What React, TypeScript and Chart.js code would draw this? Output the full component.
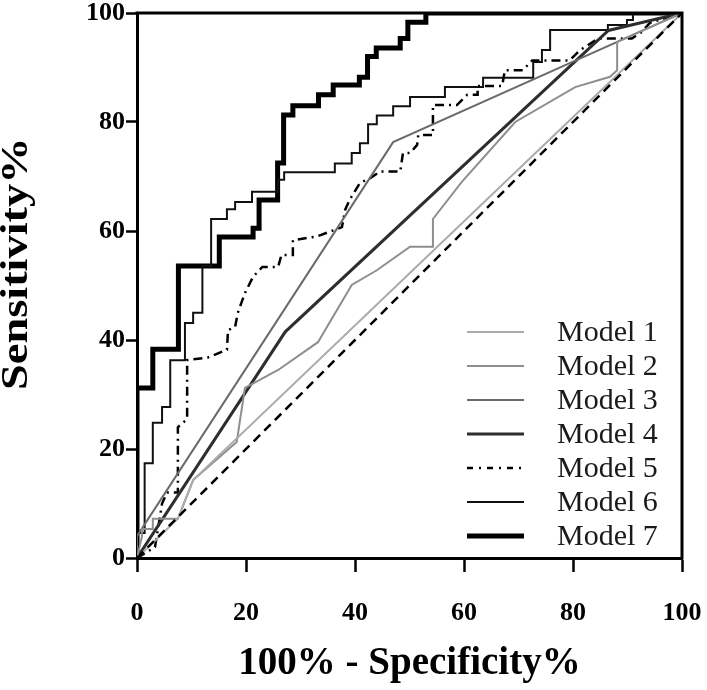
import React, { useEffect, useRef } from "react";
import { Chart, registerables } from "chart.js";

Chart.register(...registerables);

// ---- Data (100% - Specificity%, Sensitivity%) ----
const modelNames = ["Model 1", "Model 2", "Model 3", "Model 4", "Model 5", "Model 6", "Model 7"];

const refFpr = [0, 100];
const refTpr = [0, 100];

const m1Fpr = [0, 7.5, 10.3, 100];
const m1Tpr = [0, 7.2, 14.3, 100];

const m2Fpr = [0, 0.9, 0.9, 2.9, 2.9, 7.5, 10.3, 18.3, 19.8, 25.9, 33.2, 39.4, 44.0, 50.1, 54.3, 54.3, 59.6, 69.4, 80.4, 86.8, 88.1, 88.1, 100];
const m2Tpr = [0, 3.9, 5.3, 5.3, 7.2, 7.2, 14.3, 21.3, 31.2, 34.5, 39.6, 50.1, 52.8, 57.1, 57.1, 62.2, 69.0, 80.0, 86.4, 88.3, 89.5, 94.7, 100];

const m3Fpr = [0, 0, 47.0, 100];
const m3Tpr = [0, 4.0, 76.3, 100];

const m4Fpr = [0, 27.2, 86.5, 100];
const m4Tpr = [0, 41.5, 96.8, 100];

const m5Fpr = [0, 3.3, 4.6, 5.5, 7.5, 7.5, 9.2, 9.2, 13.0, 16.5, 16.7, 18.0, 18.5, 19.8, 21.3, 23.0, 25.9, 26.5, 28.6, 28.6, 33.0, 37.6, 38.2, 39.0, 40.9, 42.8, 44.6, 48.3, 48.8, 50.1, 51.4, 51.6, 54.3, 54.3, 58.7, 60.6, 62.5, 62.5, 67.0, 67.5, 70.8, 72.5, 79.4, 81.3, 84.6, 90.8, 92.7, 94.1, 100];
const m5Tpr = [0, 2.0, 10.0, 12.0, 12.0, 24.0, 25.5, 36.3, 36.8, 38.2, 41.8, 42.4, 45.0, 48.6, 51.6, 53.4, 53.4, 55.6, 55.6, 58.3, 59.0, 60.7, 63.9, 65.7, 68.8, 69.7, 70.9, 70.9, 74.3, 74.3, 75.8, 77.6, 77.6, 83.1, 83.1, 85.0, 85.0, 86.6, 86.6, 89.5, 89.5, 91.3, 91.3, 93.2, 95.3, 95.3, 96.6, 98.2, 100];

const m6Fpr = [0, 0, 1.4, 1.4, 2.9, 2.9, 4.6, 4.6, 6.1, 6.1, 8.8, 8.8, 10.3, 10.3, 12.0, 12.0, 13.6, 13.6, 16.5, 16.5, 18.0, 18.0, 21.1, 21.1, 25.9, 25.9, 27.0, 27.0, 36.3, 36.3, 39.4, 39.4, 40.9, 40.9, 42.4, 42.4, 44.0, 44.0, 47.0, 47.0, 50.1, 50.1, 56.5, 56.5, 63.5, 63.5, 72.7, 72.7, 74.3, 74.3, 75.8, 75.8, 86.4, 86.4, 89.9, 89.9, 91.0, 91.0, 100];
const m6Tpr = [0, 4.6, 4.6, 17.4, 17.4, 24.8, 24.8, 27.7, 27.7, 36.3, 36.3, 43.1, 43.1, 45.0, 45.0, 53.6, 53.6, 62.2, 62.2, 64.0, 64.0, 65.3, 65.3, 67.2, 67.2, 69.4, 69.4, 70.8, 70.8, 72.4, 72.4, 74.3, 74.3, 76.1, 76.1, 79.6, 79.6, 81.2, 81.2, 82.9, 82.9, 84.6, 84.6, 86.4, 86.4, 88.1, 88.1, 91.0, 91.0, 93.2, 93.2, 96.9, 96.9, 97.8, 97.8, 98.7, 98.7, 100, 100];

const m7Fpr = [0, 0, 2.9, 2.9, 7.6, 7.6, 15.1, 15.1, 21.3, 21.3, 22.4, 22.4, 25.8, 25.8, 26.9, 26.9, 28.6, 28.6, 33.3, 33.3, 36.0, 36.0, 40.8, 40.8, 42.3, 42.3, 43.9, 43.9, 48.3, 48.3, 49.7, 49.7, 53.0, 53.0, 100];
const m7Tpr = [0, 31.2, 31.2, 38.3, 38.3, 53.6, 53.6, 58.9, 58.9, 60.5, 60.5, 65.7, 65.7, 72.5, 72.5, 81.3, 81.3, 83.0, 83.0, 85.0, 85.0, 86.8, 86.8, 88.2, 88.2, 92.0, 92.0, 93.6, 93.6, 95.3, 95.3, 98.3, 98.3, 100, 100];

const tickValues = [0, 20, 40, 60, 80, 100];
const xTitle = "100% - Specificity%";
const yTitle = "Sensitivity%";

// ---- Styles ----
const lineColors = ["#ababab", "#8e8e8e", "#6a6a6a", "#2e2e2e", "#000000", "#111111", "#000000"];
const lineWidths = [2, 2, 2, 3, 2.5, 2, 5];
const lineDashes: number[][] = [[], [], [], [], [9, 5, 2, 5], [], []];
const legendDashes: number[][] = [[], [], [], [], [6, 6, 2, 6], [], []];

const toPoints = (xs: number[], ys: number[]) => xs.map((x, i) => ({ x, y: ys[i] }));

const seriesX = [m1Fpr, m2Fpr, m3Fpr, m4Fpr, m5Fpr, m6Fpr, m7Fpr];
const seriesY = [m1Tpr, m2Tpr, m3Tpr, m4Tpr, m5Tpr, m6Tpr, m7Tpr];

const SERIF = "'Liberation Serif', 'Times New Roman', serif";

const framePlugin = {
  id: "frame",
  afterDraw(chart: any) {
    const { ctx, chartArea } = chart;
    ctx.save();
    ctx.strokeStyle = "#000";
    ctx.lineWidth = 3;
    ctx.beginPath();
    ctx.moveTo(chartArea.left - 1.5, chartArea.top);
    ctx.lineTo(chartArea.right, chartArea.top);
    ctx.lineTo(chartArea.right, chartArea.bottom + 1.5);
    ctx.stroke();
    ctx.restore();
  },
};

const yTitlePlugin = {
  id: "yTitleStretched",
  afterDraw(chart: any) {
    const { ctx, chartArea } = chart;
    ctx.save();
    ctx.translate(17, chartArea.top + (chartArea.bottom - chartArea.top) * 0.46);
    ctx.rotate(-Math.PI / 2);
    ctx.scale(1.22, 1);
    ctx.font = `bold 38px ${SERIF}`;
    ctx.fillStyle = "#000";
    ctx.textAlign = "center";
    ctx.textBaseline = "middle";
    ctx.fillText(yTitle, 0, 0);
    ctx.restore();
  },
};

const insideLegend = {
  id: "insideLegend",
  afterDatasetsDraw(chart: any) {
    const { ctx, chartArea } = chart;
    const sets = chart.data.datasets.filter((d: any) => d.label !== "Reference");
    ctx.save();
    ctx.font = `30px ${SERIF}`;
    ctx.textBaseline = "middle";
    ctx.textAlign = "left";
    sets.forEach((ds: any, i: number) => {
      const y = chartArea.bottom - 226 + i * 34;
      const x0 = chartArea.right - 215;
      const x1 = chartArea.right - 158;
      ctx.beginPath();
      ctx.strokeStyle = ds.borderColor;
      ctx.lineWidth = ds.borderWidth;
      ctx.setLineDash(ds.legendDash || []);
      ctx.moveTo(x0, y);
      ctx.lineTo(x1, y);
      ctx.stroke();
      ctx.setLineDash([]);
      ctx.fillStyle = "#1a1a1a";
      ctx.fillText(ds.label, chartArea.right - 125, y + 1);
    });
    ctx.restore();
  },
};

export default function App() {
  const canvasRef = useRef<HTMLCanvasElement | null>(null);

  useEffect(() => {
    if (!canvasRef.current) return;
    const datasets: any[] = [
      {
        label: "Reference",
        data: toPoints(refFpr, refTpr),
        borderColor: "#000",
        borderWidth: 2.5,
        borderDash: [9, 6],
        pointRadius: 0,
        fill: false,
        tension: 0,
      },
      ...modelNames.map((name, i) => ({
        label: name,
        data: toPoints(seriesX[i], seriesY[i]),
        borderColor: lineColors[i],
        borderWidth: lineWidths[i],
        borderDash: lineDashes[i],
        legendDash: legendDashes[i],
        pointRadius: 0,
        fill: false,
        tension: 0,
        borderJoinStyle: "miter",
        borderCapStyle: "butt",
      })),
    ];

    const chart = new Chart(canvasRef.current, {
      type: "line",
      data: { datasets },
      plugins: [framePlugin, insideLegend, yTitlePlugin],
      options: {
        responsive: false,
        animation: false,
        devicePixelRatio: 1,
        layout: { padding: { top: 13, right: 25, left: 0, bottom: 0 } },
        plugins: { legend: { display: false }, tooltip: { enabled: false } },
        scales: {
          x: {
            type: "linear",
            min: 0,
            max: 100,
            afterBuildTicks: (s: any) => {
              s.ticks = tickValues.map((v) => ({ value: v }));
            },
            afterFit: (s: any) => {
              s.height = 132;
              s.paddingLeft = 0;
              s.paddingRight = 0;
            },
            border: { display: true, color: "#000", width: 3 },
            grid: { drawOnChartArea: false, drawTicks: true, tickLength: 14, tickWidth: 2.5, tickColor: "#000" },
            ticks: {
              color: "#000",
              font: { family: SERIF, size: 26, weight: "bold" },
              padding: 26,
              maxRotation: 0,
            },
            title: {
              display: true,
              text: xTitle,
              color: "#000",
              font: { family: SERIF, size: 39, weight: "bold", lineHeight: 1 },
              padding: { top: 0, bottom: 7 },
            },
          },
          y: {
            type: "linear",
            min: 0,
            max: 100,
            afterBuildTicks: (s: any) => {
              s.ticks = tickValues.map((v) => ({ value: v }));
            },
            afterFit: (s: any) => {
              s.width = 137;
              s.paddingTop = 0;
              s.paddingBottom = 0;
            },
            border: { display: true, color: "#000", width: 3 },
            grid: { drawOnChartArea: false, drawTicks: true, tickLength: 11, tickWidth: 2.5, tickColor: "#000" },
            ticks: {
              color: "#000",
              font: { family: SERIF, size: 26, weight: "bold" },
              padding: 1,
            },
            title: { display: false },
          },
        },
      } as any,
    });
    return () => chart.destroy();
  }, []);

  return (
    <div style={{ position: "absolute", left: 0, top: 0, width: 707, height: 690, background: "#fff" }}>
      <canvas ref={canvasRef} width={707} height={690} style={{ display: "block", width: 707, height: 690 }} />
    </div>
  );
}
